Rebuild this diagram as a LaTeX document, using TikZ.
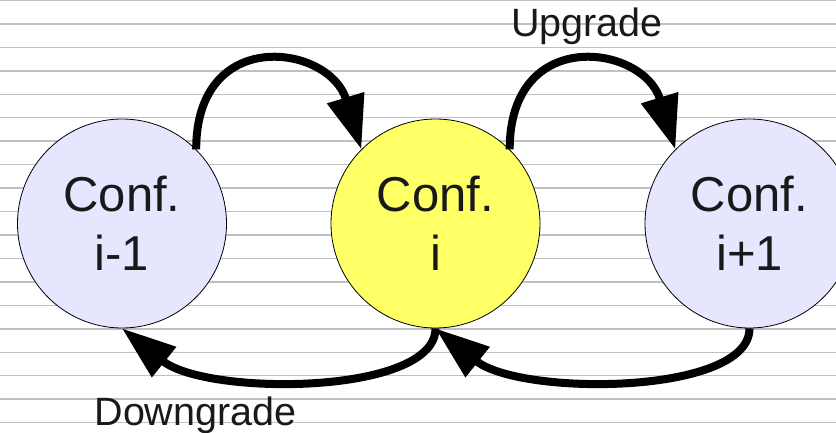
\documentclass[tikz,border=0pt]{standalone}
\usepackage{fontspec}
\setmainfont{Liberation Sans}
\usetikzlibrary{arrows.meta}
\definecolor{lav}{RGB}{230,230,255}
\definecolor{yel}{RGB}{255,255,102}
\definecolor{rulegray}{RGB}{192,192,192}
\begin{document}
\begin{tikzpicture}[x=1pt,y=-1pt,
  conf/.style={circle, draw=black, line width=0.8pt, minimum size=209pt, inner sep=0pt, align=center, font=\fontsize{49}{59}\selectfont, text=black!90},
  flow/.style={line width=8pt, -{Triangle[length=54pt,width=37pt]}},
  lbl/.style={font=\fontsize{39.5}{47}\selectfont, anchor=base, text=black!90}]
\useasboundingbox (0,0) rectangle (836,433);
\clip (0,0) rectangle (836,433);
\fill[white] (0,0) rectangle (836,433);
\foreach \k in {0,...,18} \draw[rulegray, line width=1.5pt] (0,{0.5+23.45*\k}) -- (836,{0.5+23.45*\k});
\node[conf, fill=lav] (a) at (122,223.5) {Conf.\\i-1};
\node[conf, fill=yel] (b) at (435.5,223.5) {Conf.\\i};
\node[conf, fill=lav] (c) at (749.5,223.5) {Conf.\\i+1};
\draw[flow] (a.45) .. controls +(0,-124) and +(-32,-105) .. (b.135);
\draw[flow] (b.45) .. controls +(0,-124) and +(-32,-105) .. (c.135);
\draw[flow] (b.south) .. controls +(0,67) and +(85,68) .. (a.south);
\draw[flow] (c.south) .. controls +(0,67) and +(85,68) .. (b.south);
\node[lbl] (up) at (587,37) {Upgrade};
\node[lbl] (down) at (195.5,425) {Downgrade};
\end{tikzpicture}
\end{document}
